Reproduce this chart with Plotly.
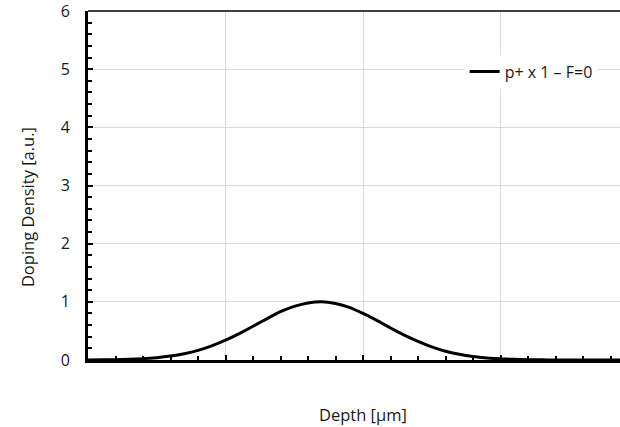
import plotly.graph_objects as go

depth = [0.0, 0.1, 0.2, 0.3, 0.4, 0.5, 0.6, 0.7, 0.8, 0.9, 1.0, 1.1, 1.2, 1.3, 1.4, 1.5, 1.6, 1.7, 1.8, 1.9,
         2.0, 2.1, 2.2, 2.3, 2.4, 2.5, 2.6, 2.7, 2.8, 2.9, 3.0, 3.1, 3.2, 3.3, 3.4, 3.5, 3.6, 3.7, 3.8, 3.9]
density = [0.0015, 0.0032, 0.0064, 0.0124, 0.023, 0.040, 0.067, 0.108, 0.165, 0.242, 0.34, 0.453, 0.58, 0.708,
           0.83, 0.921, 0.98, 1.0, 0.97, 0.905, 0.80, 0.682, 0.55, 0.429, 0.32, 0.225, 0.15, 0.098, 0.061, 0.036,
           0.020, 0.011, 0.0056, 0.0027, 0.0012, 0.0005, 0.0, 0.0, 0.0, 0.0]
series_name = "p+ x 1 \u2013 F=0"
y_title = "Doping Density [a.u.]"
x_title = "Depth [\u00b5m]"

FONT = "'Open Sans', sans-serif"
TXT = "#1a1a1a"

fig = go.Figure()
fig.add_trace(go.Scatter(x=depth, y=density, mode="lines", name=series_name,
                         line=dict(color="black", width=3, shape="spline", smoothing=0.4)))

fig.update_layout(
    width=620, height=427,
    margin=dict(l=88, r=0, t=11, b=67),
    plot_bgcolor="white", paper_bgcolor="white",
    font=dict(family=FONT, size=16, color=TXT),
    showlegend=True,
    legend=dict(x=0.708, y=0.875, xanchor="left", yanchor="top", bgcolor="white",
                itemwidth=30, font=dict(size=16, color=TXT)),
    xaxis=dict(range=[0, 3.869], dtick=1, tick0=0, showticklabels=False,
               showgrid=True, gridcolor="#d9d9d9", gridwidth=1, zeroline=False,
               showline=True, linecolor="black", linewidth=3,
               ticks="inside", ticklen=5, tickwidth=2, tickcolor="black",
               minor=dict(dtick=0.2, ticks="inside", ticklen=4, tickwidth=1.5,
                          tickcolor="black", showgrid=False)),
    yaxis=dict(range=[0, 6], dtick=1, tick0=0, showgrid=True, gridcolor="#d9d9d9",
               gridwidth=1, zeroline=False, showline=True, linecolor="black", linewidth=3,
               ticks="inside", ticklen=5, tickwidth=2, tickcolor="black",
               minor=dict(dtick=0.2, ticks="inside", ticklen=4, tickwidth=1.5,
                          tickcolor="black", showgrid=False),
               tickfont=dict(size=16, color=TXT), ticklabelstandoff=12,
               ticklabeloverflow="allow"),
    shapes=[dict(type="line", xref="paper", yref="paper", x0=0, x1=1, y0=1, y1=1,
                 line=dict(color="black", width=1.5))],
    annotations=[
        dict(text=x_title, xref="x", yref="paper", x=2, y=0, yshift=-54, showarrow=False,
             xanchor="center", yanchor="middle", font=dict(size=16.5, color=TXT)),
        dict(text=y_title, xref="paper", yref="paper", x=-0.1147, y=0.438, textangle=-90,
             showarrow=False, xanchor="center", yanchor="middle", font=dict(size=16.5, color=TXT)),
    ],
)

fig.write_html("out.html")
